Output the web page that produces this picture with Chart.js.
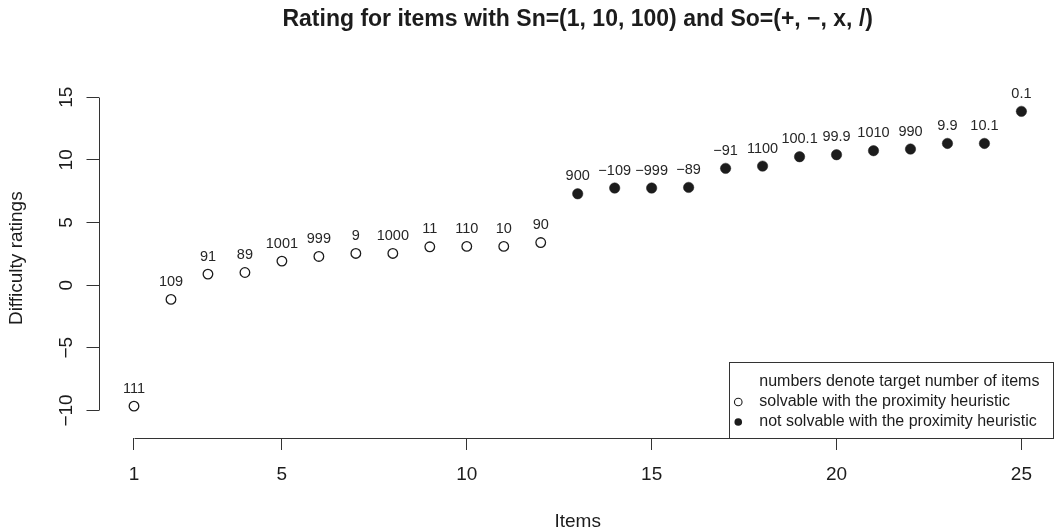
<!DOCTYPE html>
<html>
<head>
<meta charset="utf-8">
<script src="https://cdn.jsdelivr.net/npm/chart.js@4/dist/chart.umd.min.js"></script>
<style>
  html, body { margin: 0; padding: 0; background: #ffffff; }
  #wrap { width: 1063px; height: 531px; }
</style>
</head>
<body>
<div id="wrap"><canvas id="c" width="1063" height="531"></canvas></div>
<script>
// ---- data ----
const solvableItems = [1, 2, 3, 4, 5, 6, 7, 8, 9, 10, 11, 12];
const solvableRatings = [-9.66, -1.14, 0.88, 1.01, 1.92, 2.29, 2.53, 2.53, 3.06, 3.09, 3.09, 3.40];
const solvableTargets = ["111", "109", "91", "89", "1001", "999", "9", "1000", "11", "110", "10", "90"];

const notSolvableItems = [13, 14, 15, 16, 17, 18, 19, 20, 21, 22, 23, 24, 25];
const notSolvableRatings = [7.29, 7.75, 7.75, 7.80, 9.32, 9.50, 10.25, 10.41, 10.73, 10.86, 11.31, 11.31, 13.87];
const notSolvableTargets = ["900", "\u2212109", "\u2212999", "\u221289", "\u221291", "1100", "100.1", "99.9", "1010", "990", "9.9", "10.1", "0.1"];

const xTickValues = [1, 5, 10, 15, 20, 25];
const yTickValues = [-10, -5, 0, 5, 10, 15];

const titleText = "Rating for items with Sn=(1, 10, 100) and So=(+, \u2212, x, /)";
const xTitle = "Items";
const yTitle = "Difficulty ratings";
const legendNote = "numbers denote target number of items";
const solvableLabel = "solvable with the proximity heuristic";
const notSolvableLabel = "not solvable with the proximity heuristic";

// ---- styling ----
const FONT = "'Liberation Sans', Arial, Helvetica, sans-serif";
const INK = '#1c1c1c';
const AXIS = '#333333';
const fmt = v => String(v).replace('-', '\u2212');

const toPoints = (xs, ys) => xs.map((x, i) => ({ x: x, y: ys[i] }));

// point labels, axis lines, rotated y tick labels, legend box
const rPlugin = {
  id: 'rStyle',
  afterDatasetsDraw(chart) {
    const ctx = chart.ctx;
    const labelSets = [solvableTargets, notSolvableTargets];
    ctx.save();
    ctx.font = '14.5px ' + FONT;
    ctx.fillStyle = '#262626';
    ctx.textAlign = 'center';
    ctx.textBaseline = 'alphabetic';
    chart.data.datasets.forEach((ds, di) => {
      const meta = chart.getDatasetMeta(di);
      meta.data.forEach((el, i) => {
        ctx.fillText(labelSets[di][i], el.x, el.y - 13.5);
      });
    });
    ctx.restore();
  },
  afterDraw(chart) {
    const ctx = chart.ctx;
    const xs = chart.scales.x, ys = chart.scales.y;
    const area = chart.chartArea;
    ctx.save();
    ctx.strokeStyle = AXIS;
    ctx.lineWidth = 1;
    // x axis line between first and last tick
    const xy = Math.round(area.bottom) + 0.5;
    ctx.beginPath();
    ctx.moveTo(Math.round(xs.getPixelForValue(xTickValues[0])) + 0.5, xy);
    ctx.lineTo(Math.round(xs.getPixelForValue(xTickValues[xTickValues.length - 1])) + 0.5, xy);
    ctx.stroke();
    // y axis line
    const yx = Math.round(area.left) + 0.5;
    ctx.beginPath();
    ctx.moveTo(yx, Math.round(ys.getPixelForValue(yTickValues[0])) + 0.5);
    ctx.lineTo(yx, Math.round(ys.getPixelForValue(yTickValues[yTickValues.length - 1])) + 0.5);
    ctx.stroke();
    // rotated y tick labels
    ctx.fillStyle = INK;
    ctx.font = '19px ' + FONT;
    ctx.textAlign = 'center';
    ctx.textBaseline = 'middle';
    ys.ticks.forEach(t => {
      const py = ys.getPixelForValue(t.value);
      ctx.save();
      ctx.translate(ys.right - 32, py);
      ctx.rotate(-Math.PI / 2);
      ctx.fillText(fmt(t.value), 0, 0);
      ctx.restore();
    });
    // legend box (bottom right of plot region)
    ctx.font = '16px ' + FONT;
    const lines = [legendNote, chart.data.datasets[0].label, chart.data.datasets[1].label];
    const tw = Math.max(...lines.map(s => ctx.measureText(s).width));
    const right = area.right - 3.5;
    const bottom = area.bottom;
    const w = tw + 44;
    const h = 76;
    const left = right - w;
    const top = bottom - h;
    ctx.fillStyle = '#ffffff';
    ctx.fillRect(left, top, w, h);
    ctx.strokeStyle = AXIS;
    ctx.strokeRect(Math.round(left) + 0.5, Math.round(top) + 0.5, Math.round(w), Math.round(h));
    ctx.fillStyle = INK;
    ctx.textAlign = 'left';
    ctx.textBaseline = 'middle';
    lines.forEach((s, i) => {
      const cy = top + 20 + i * 20;
      ctx.fillText(s, left + 30, cy);
      if (i > 0) {
        ctx.beginPath();
        ctx.arc(left + 9, cy, 3.8, 0, Math.PI * 2);
        if (i === 1) {
          ctx.fillStyle = '#ffffff'; ctx.fill();
          ctx.lineWidth = 1.1; ctx.strokeStyle = INK; ctx.stroke();
        } else {
          ctx.fillStyle = INK; ctx.fill();
        }
        ctx.fillStyle = INK;
      }
    });
    ctx.restore();
  }
};

new Chart(document.getElementById('c'), {
  type: 'scatter',
  data: {
    datasets: [
      {
        label: solvableLabel,
        data: toPoints(solvableItems, solvableRatings),
        pointStyle: 'circle',
        pointRadius: 4.8,
        pointBackgroundColor: '#ffffff',
        pointBorderColor: INK,
        pointBorderWidth: 1.3,
        showLine: false
      },
      {
        label: notSolvableLabel,
        data: toPoints(notSolvableItems, notSolvableRatings),
        pointStyle: 'circle',
        pointRadius: 5.2,
        pointBackgroundColor: INK,
        pointBorderColor: INK,
        pointBorderWidth: 0.5,
        showLine: false
      }
    ]
  },
  options: {
    responsive: false,
    animation: false,
    devicePixelRatio: 1,
    layout: { padding: { left: 0, right: 5.5, top: 0, bottom: 0 } },
    plugins: {
      legend: { display: false },
      tooltip: { enabled: false },
      title: {
        display: true,
        text: titleText,
        fullSize: false,
        color: INK,
        font: { family: FONT, size: 23, weight: 'bold', lineHeight: 1.2 },
        padding: { top: 6.2, bottom: 44.6 }
      }
    },
    scales: {
      x: {
        type: 'linear',
        position: 'bottom',
        min: 0.04,
        max: 25.96,
        afterBuildTicks: s => { s.ticks = xTickValues.map(v => ({ value: v })); },
        afterFit: s => { s.height = 93; },
        border: { display: false },
        grid: { drawOnChartArea: false, drawTicks: true, tickLength: 12, color: AXIS, lineWidth: 1 },
        ticks: { color: INK, font: { family: FONT, size: 19 }, padding: 13, maxRotation: 0, autoSkip: false, callback: v => fmt(v) },
        title: { display: true, text: xTitle, color: INK, font: { family: FONT, size: 19, lineHeight: 1 }, padding: { top: 0, bottom: 0 } }
      },
      y: {
        type: 'linear',
        position: 'left',
        min: -12.2,
        max: 16.5,
        afterBuildTicks: s => { s.ticks = yTickValues.map(v => ({ value: v })); },
        afterFit: s => { s.width = 98.5; },
        border: { display: false },
        grid: { drawOnChartArea: false, drawTicks: true, tickLength: 12, color: AXIS, lineWidth: 1 },
        ticks: { display: false },
        title: { display: true, text: yTitle, color: INK, font: { family: FONT, size: 19, lineHeight: 1 }, padding: { top: 7.5, bottom: 0 } }
      }
    }
  },
  plugins: [rPlugin]
});
</script>
</body>
</html>
